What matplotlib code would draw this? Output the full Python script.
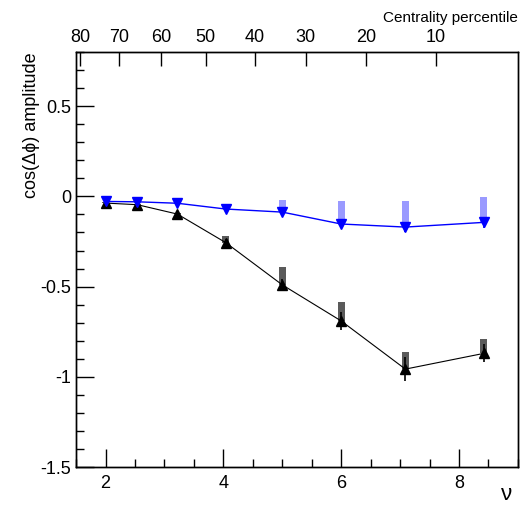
import matplotlib.pyplot as plt
from matplotlib.ticker import MultipleLocator

plt.rcParams['font.family'] = ['Liberation Sans', 'DejaVu Sans']

# nu values (number of participants scaled) for the two series
nu = [2.0, 2.54, 3.22, 4.04, 5.0, 6.0, 7.09, 8.42]

# black (up triangles)
black_val = [-0.037, -0.046, -0.098, -0.256, -0.49, -0.69, -0.957, -0.87]
black_stat = [0.015, 0.015, 0.015, 0.02, 0.035, 0.05, 0.065, 0.05]
black_sys_top = [-0.03, -0.04, -0.09, -0.22, -0.39, -0.583, -0.86, -0.79]

# blue (down triangles)
blue_val = [-0.028, -0.03, -0.038, -0.07, -0.087, -0.153, -0.17, -0.144]
blue_stat = [0.01, 0.01, 0.01, 0.015, 0.015, 0.02, 0.025, 0.03]
blue_sys_top = [-0.025, -0.027, -0.035, -0.065, -0.018, -0.028, -0.028, -0.003]

# top axis: centrality percentile vs nu
cent_labels = [80, 70, 60, 50, 40, 30, 20, 10]
cent_nu = [1.57, 2.23, 2.94, 3.70, 4.53, 5.40, 6.42, 7.61]

fig = plt.figure(figsize=(5.21, 5.15), dpi=100)
ax = fig.add_axes([0.146, 0.093, 0.848, 0.806])

band_w = 0.12
for x, v, t in zip(nu, black_val, black_sys_top):
    ax.bar(x, t - v, bottom=v, width=band_w, color='#5a5a5a', linewidth=0, zorder=1)
for x, v, t in zip(nu, blue_val, blue_sys_top):
    ax.bar(x, t - v, bottom=v, width=band_w, color='#9a9aff', linewidth=0, zorder=1)

ax.plot(nu, black_val, color='black', lw=0.8, zorder=2)
ax.errorbar(nu, black_val, yerr=black_stat, fmt='^', color='black', ms=7,
            elinewidth=1.2, capsize=0, zorder=3)
ax.plot(nu, blue_val, color='blue', lw=1.0, zorder=2)
ax.errorbar(nu, blue_val, yerr=blue_stat, fmt='v', color='blue', ms=7,
            elinewidth=1.2, capsize=0, zorder=3)

ax.set_xlim(1.5, 9.0)
ax.set_ylim(-1.5, 0.8)
ax.xaxis.set_major_locator(MultipleLocator(2))
ax.xaxis.set_minor_locator(MultipleLocator(0.5))
ax.yaxis.set_major_locator(MultipleLocator(0.5))
ax.yaxis.set_minor_locator(MultipleLocator(0.1))
ax.tick_params(which='both', direction='in', top=False, right=False,
               labelsize=13, width=1)
ax.tick_params(which='major', length=13)
ax.tick_params(which='minor', length=6)
ax.tick_params(axis='x', pad=6)
ax.set_yticks([-1.5, -1, -0.5, 0, 0.5])
ax.set_yticklabels(['-1.5', '-1', '-0.5', '0', '0.5'])
ax.set_xticks([2, 4, 6, 8])
for s in ax.spines.values():
    s.set_linewidth(1.0)

ax.set_ylabel(u'cos(\u0394\u03d5) amplitude', fontsize=13, loc='top', labelpad=0)
fig.text(0.973, 0.02, u'\u03bd', fontsize=16, ha='center', va='bottom')

top = ax.twiny()
top.set_xlim(ax.get_xlim())
top.set_xticks(cent_nu)
top.set_xticklabels([str(c) for c in cent_labels])
top.tick_params(direction='in', length=10, width=1, labelsize=13, pad=4)
top.xaxis.set_minor_locator(plt.NullLocator())
for s in top.spines.values():
    s.set_linewidth(1.0)
fig.text(0.994, 0.965, 'Centrality percentile', fontsize=11, ha='right', va='center')

fig.savefig('out.png', dpi=100)
